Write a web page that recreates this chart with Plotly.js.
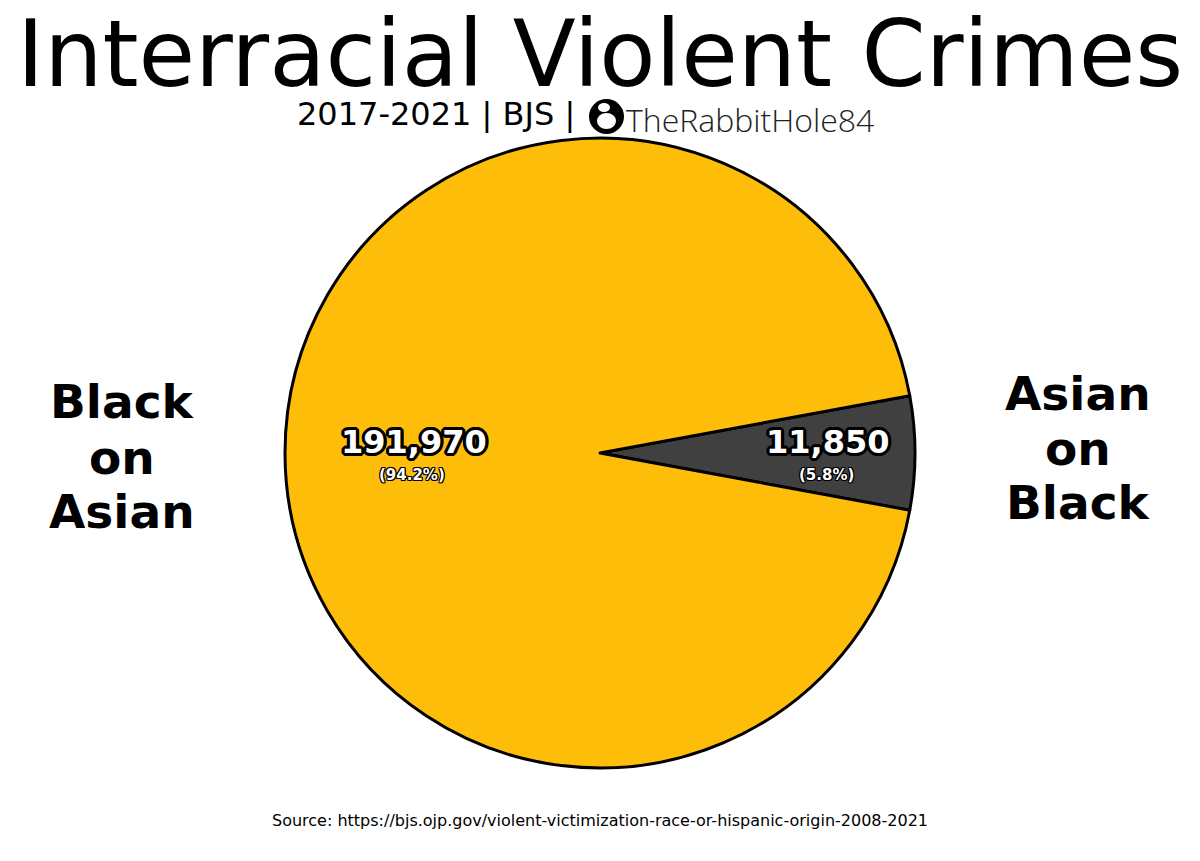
<!DOCTYPE html>
<html>
<head>
<meta charset="utf-8">
<script src="https://cdn.plot.ly/plotly-3.0.1.min.js"></script>
<style>html,body{margin:0;padding:0;background:#fff;}#chart{width:1200px;height:861px;}</style>
</head>
<body>
<div id="chart"></div>
<script>
const categories = ["Asian on Black", "Black on Asian"];
const values = [11850, 191970];
const sliceColors = ["#404040", "#FDBD08"];
const titleText = "Interracial Violent Crimes";
const subtitleText = "2017-2021 | BJS | ";
const handleText = "TheRabbitHole84";
const sourceText = "Source: https://bjs.ojp.gov/violent-victimization-race-or-hispanic-origin-2008-2021";
const leftLabelLines = ["Black", "on", "Asian"];
const rightLabelLines = ["Asian", "on", "Black"];

const total = values.reduce((a, b) => a + b, 0);
const fmt = v => v.toLocaleString("en-US");
const pct = v => (100 * v / total).toFixed(1) + "%";
function ring(r) {
  const s = [];
  for (let dx = -r; dx <= r; dx++) for (let dy = -r; dy <= r; dy++) {
    if ((dx || dy) && dx * dx + dy * dy <= r * r + 1) s.push(dx + "px " + dy + "px 0 #000");
  }
  return s.join(", ");
}
const outline = ring(3);
const outlineSm = ring(1);

// first slice centred at 3 o'clock
const firstFrac = values[0] / total;
const rotation = 90 - firstFrac * 360 / 2;

const trace = {
  type: "pie",
  labels: categories,
  values: values,
  sort: false,
  direction: "clockwise",
  rotation: rotation,
  marker: { colors: sliceColors, line: { color: "#000", width: 3 } },
  textinfo: "none",
  hoverinfo: "label+value+percent",
  showlegend: false,
  domain: { x: [0, 1], y: [0, 1] }
};

const font = "DejaVu Sans, sans-serif";
const W = 1200, H = 861, mt = 138, mb = 93;
const ph = H - mt - mb;
const px = x => x / W;
const py = y => (H - mb - y) / ph;

function ann(text, x, y, f, extra) {
  return Object.assign({
    text: text, x: px(x), y: py(y), xref: "paper", yref: "paper", showarrow: false,
    xanchor: "center", yanchor: "middle", font: Object.assign({ family: font, color: "#000" }, f)
  }, extra || {});
}

const annotations = [
  ann(titleText, 600, 54, { size: 92 }, { height: 78 }),
  ann(fmt(values[1]), 414, 442, { size: 32, color: "#fff", weight: "bold", shadow: outline }),
  ann("(" + pct(values[1]) + ")", 412, 475, { size: 15, color: "#fff", weight: "bold", shadow: outlineSm }),
  ann(fmt(values[0]), 827, 442, { size: 32, color: "#fff", weight: "bold", shadow: outline }),
  ann("(" + pct(values[0]) + ")", 826, 475, { size: 15, color: "#fff", weight: "bold", shadow: outlineSm }),
  ann(subtitleText, 587, 114, { size: 32 }, { xanchor: "right" }),
  ann(handleText, 624, 119, { family: "Open Sans, sans-serif", size: 32, color: "#222", weight: 300 }, { xanchor: "left" }),
  ann(sourceText, 600, 820, { size: 16 })
];
const leftY = [402, 457, 511], rightY = [393, 448, 503];
leftLabelLines.forEach((t, i) => annotations.push(ann(t, 122, leftY[i], { size: 47, weight: "bold" })));
rightLabelLines.forEach((t, i) => annotations.push(ann(t, 1078, rightY[i], { size: 47, weight: "bold" })));

const shapes = [
  { type: "circle", xref: "paper", yref: "paper", x0: px(589), x1: px(624), y0: py(134), y1: py(99),
    fillcolor: "#000", line: { color: "#000", width: 0 } },
  { type: "circle", xref: "paper", yref: "paper", x0: px(597), x1: px(616), y0: py(129), y1: py(113),
    fillcolor: "#fff", line: { width: 0 } },
  { type: "circle", xref: "paper", yref: "paper", x0: px(598), x1: px(610), y0: py(112), y1: py(103),
    fillcolor: "#fff", line: { width: 0 } }
];

const layout = {
  width: W, height: H,
  margin: { l: 0, r: 0, t: mt, b: mb },
  paper_bgcolor: "#fff",
  plot_bgcolor: "#fff",
  annotations: annotations,
  shapes: shapes,
  showlegend: false
};

Plotly.newPlot("chart", [trace], layout, { displayModeBar: false, staticPlot: true });
</script>
</body>
</html>
